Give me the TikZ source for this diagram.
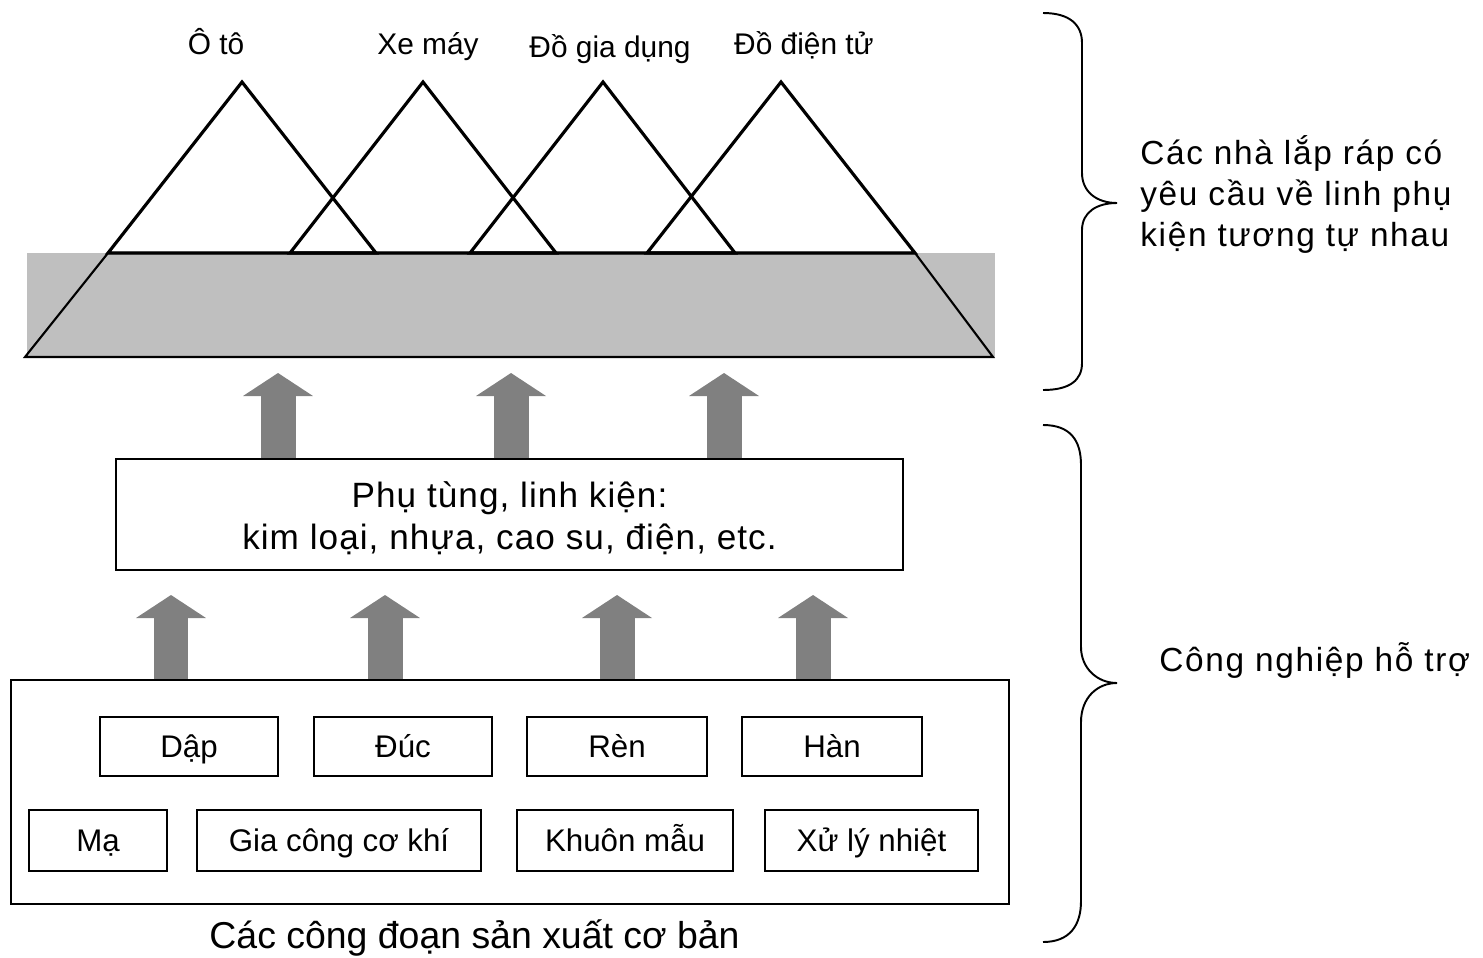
\documentclass[tikz,border=0pt]{standalone}
\usepackage{fontspec}
\setmainfont{Liberation Sans}
\usetikzlibrary{arrows.meta}

\tikzset{
  frame/.style={draw, line width=1.1pt, inner sep=0pt},
  procbox/.style={frame, text height=16.5pt, text depth=3.8pt, font=\fontsize{17.8}{20}\selectfont},
  uparrow/.style={draw=black!50, line width=0.7cm, -{Triangle[width=1.4cm, length=0.46cm, line width=0pt]}},
  peak/.style={line width=1.8pt},
  bracket/.style={line width=1.1pt},
  toplabel/.style={anchor=base, inner sep=0pt, font=\fontsize{17}{20}\selectfont},
  sidelabel/.style={anchor=base west, inner sep=0pt, align=left, font=\fontsize{19}{23.2}\selectfont\addfontfeatures{LetterSpace=5}},
}

\begin{document}
\begin{tikzpicture}[x=0.02cm, y=-0.02cm]
  \useasboundingbox (0,0) rectangle (1483,957);

  % assemblers on a common base
  \fill[black!25] (27,253) rectangle (995,357);
  \draw[line width=1.2pt] (25,357) -- (108,253) -- (915,253) -- (993,357) -- cycle;
  \draw[peak] (108,253) -- (242,82) -- (376,253) -- cycle;
  \draw[peak] (290,253) -- (423,82) -- (556,253) -- cycle;
  \draw[peak] (470,253) -- (603,82) -- (735,253) -- cycle;
  \draw[peak] (647,253) -- (781,82) -- (915,253) -- cycle;

  \node[toplabel] (oto) at (216,54) {Ô tô};
  \node[toplabel] (xemay) at (428,54) {Xe máy};
  \node[toplabel] (giadung) at (610,57) {Đồ gia dụng};
  \node[toplabel] (dientu) at (804,54) {Đồ điện tử};

  % parts and components
  \node[frame, minimum width=15.74cm, minimum height=2.22cm, align=center, text height=44.3pt, text depth=4pt,
        font=\fontsize{20}{24.4}\selectfont\addfontfeatures{LetterSpace=3}] (parts) at (509.5,514.5)
        {Phụ tùng, linh kiện:\\kim loại, nhựa, cao su, điện, etc.};

  % basic processes
  \node[frame, minimum width=19.96cm, minimum height=4.48cm] (base) at (510,792) {};
  \node[procbox, minimum width=3.56cm, minimum height=1.18cm] (dap) at (189,746.5) {Dập};
  \node[procbox, minimum width=3.56cm, minimum height=1.18cm] (duc) at (403,746.5) {Đúc};
  \node[procbox, minimum width=3.6cm, minimum height=1.18cm] (ren) at (617,746.5) {Rèn};
  \node[procbox, minimum width=3.6cm, minimum height=1.18cm] (han) at (832,746.5) {Hàn};
  \node[procbox, minimum width=2.76cm, minimum height=1.22cm] (ma) at (98,840.5) {Mạ};
  \node[procbox, minimum width=5.68cm, minimum height=1.22cm] (giacong) at (339,840.5) {Gia công cơ khí};
  \node[procbox, minimum width=4.32cm, minimum height=1.22cm] (khuon) at (625,840.5) {Khuôn mẫu};
  \node[procbox, minimum width=4.26cm, minimum height=1.22cm] (nhiet) at (871.5,840.5) {Xử lý nhiệt};
  \node[anchor=base, inner sep=0pt, font=\fontsize{21.3}{24}\selectfont] (caption) at (474.5,948)
        {Các công đoạn sản xuất cơ bản};

  % block arrows
  \foreach \x [count=\i] in {278,511,724} {
    \coordinate (up\i) at (\x,373);
    \draw[uparrow] (up\i |- parts.north) -- (up\i);
  }
  \foreach \x [count=\i] in {171,385,617,813} {
    \coordinate (lo\i) at (\x,595);
    \draw[uparrow] (lo\i |- base.north) -- (lo\i);
  }

  % braces
  \draw[bracket] (1043,13) .. controls (1070,13) and (1082,25) .. (1082,43) -- (1082,173)
    .. controls (1082,192) and (1097,203) .. (1117,203)
    .. controls (1097,203) and (1082,212) .. (1082,230) -- (1082,363)
    .. controls (1082,380) and (1070,390) .. (1043,390);
  \draw[bracket] (1043,425) .. controls (1070,425) and (1081,440) .. (1081,465) -- (1081,647)
    .. controls (1081,668) and (1097,683) .. (1117,683)
    .. controls (1097,683) and (1081,698) .. (1081,722) -- (1081,901)
    .. controls (1081,925) and (1070,942) .. (1043,942);

  \node[sidelabel] (assemblers) at (1140,246) {Các nhà lắp ráp có\\yêu cầu về linh phụ\\kiện tương tự nhau};
  \node[sidelabel] (support) at (1159,671) {Công nghiệp hỗ trợ};
\end{tikzpicture}
\end{document}
